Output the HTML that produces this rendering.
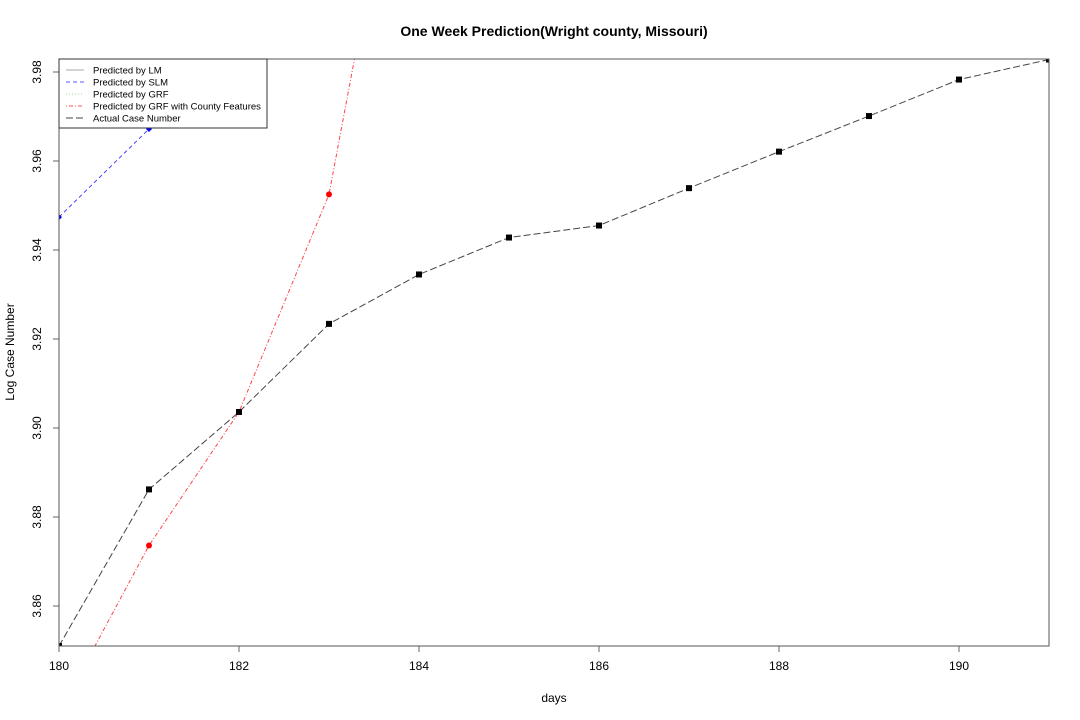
<!DOCTYPE html>
<html><head><meta charset="utf-8"><style>
body{margin:0;background:#fff}
svg{font-family:"Liberation Sans",Arial,sans-serif;display:block}
</style></head><body>
<svg id="chart" width="1080" height="720" viewBox="0 0 1080 720">
<defs><clipPath id="clip"><rect x="59" y="59" width="990" height="587"/></clipPath></defs>
<text x="554" y="36" text-anchor="middle" font-size="14" font-weight="bold">One Week Prediction(Wright county, Missouri)</text>
<text x="554" y="702" text-anchor="middle" font-size="12">days</text>
<text transform="translate(14,352) rotate(-90)" text-anchor="middle" font-size="12">Log Case Number</text>
<g id="axes"></g>
<g id="series" clip-path="url(#clip)"></g>
<rect x="59" y="59" width="990" height="587" fill="none" stroke="#555" stroke-width="1"/>
<g>
<rect x="59" y="59" width="208" height="69" fill="#fff" stroke="#333" stroke-width="1"/>
<g font-size="9.5">
<line x1="66" y1="70" x2="84" y2="70" stroke="#aaa"/>
<text x="93" y="73.5">Predicted by LM</text>
<line x1="66" y1="82" x2="84" y2="82" stroke="#55f" stroke-dasharray="4,3"/>
<text x="93" y="85.5">Predicted by SLM</text>
<line x1="66" y1="94" x2="84" y2="94" stroke="#8e8" stroke-dasharray="1,2"/>
<text x="93" y="97.5">Predicted by GRF</text>
<line x1="66" y1="106" x2="84" y2="106" stroke="#f55" stroke-dasharray="1,2,4,2"/>
<text x="93" y="109.5">Predicted by GRF with County Features</text>
<line x1="66" y1="118" x2="84" y2="118" stroke="#444" stroke-dasharray="7,3"/>
<text x="93" y="121.5">Actual Case Number</text>
</g></g>
</svg>
<script>
const days=[180,181,182,183,184,185,186,187,188,189,190,191];
const actual=[3.851,3.8862,3.9036,3.9234,3.9345,3.9428,3.9455,3.9539,3.9621,3.9701,3.9783,3.9828];
const slmDays=[180,181];
const slm=[3.9474,3.9672];
const grfcDays=[180,181,182,183,184];
const grfc=[3.836,3.8736,3.9036,3.9525,4.06];
const grfcMarkDays=[181,183];
const grfcMarks=[3.8736,3.9525];
const xTicks=[180,182,184,186,188,190];
const yTicks=[3.86,3.88,3.90,3.92,3.94,3.96,3.98];
const X=d=>59+(d-180)*90;
const Y=v=>606-(v-3.86)*4450;
const NS="http://www.w3.org/2000/svg";
function mk(t,a,p){const e=document.createElementNS(NS,t);for(const k in a)e.setAttribute(k,a[k]);p.appendChild(e);return e;}
const ax=document.getElementById('axes');
xTicks.forEach(t=>{
 const l=mk('line',{x1:X(t),x2:X(t),y1:646,y2:652,stroke:'#666'},ax);
 
 
 const tx=mk('text',{x:X(t),y:670,'text-anchor':'middle','font-size':12},ax);tx.textContent=t;
 
 
});
yTicks.forEach(t=>{
 const l=mk('line',{x1:53,x2:59,y1:Y(t),y2:Y(t),stroke:'#666'},ax);
 
 
 const tx=mk('text',{transform:`translate(41,${Y(t)}) rotate(-90)`,'text-anchor':'middle','font-size':12},ax);tx.textContent=t.toFixed(2);
 
 
});
const s=document.getElementById('series');
function line(xs,ys,color,dash,name){
 const p=mk('polyline',{points:xs.map((d,i)=>X(d)+','+Y(ys[i])).join(' '),fill:'none',stroke:color,'stroke-width':1,'stroke-dasharray':dash},s);
 
 
}
line(days,actual,'#444','7,3','actual-line');
line(slmDays,slm,'#44f','4,3','slm-line');
line(grfcDays,grfc,'#f44','1,2,4,2','grf-county-line');
days.forEach((d,i)=>{const r=mk('rect',{x:X(d)-3,y:Y(actual[i])-3,width:6,height:6,fill:'#000'},s);
 
 });
slmDays.forEach((d,i)=>{const c=mk('path',{d:`M${X(d)-3},${Y(slm[i])}L${X(d)},${Y(slm[i])-3}L${X(d)+3},${Y(slm[i])}L${X(d)},${Y(slm[i])+3}Z`,fill:'#00f'},s);
 
 });
grfcMarkDays.forEach((d,i)=>{const c=mk('circle',{cx:X(d),cy:Y(grfcMarks[i]),r:3,fill:'#f00'},s);
 
 });
</script>
</body></html>
